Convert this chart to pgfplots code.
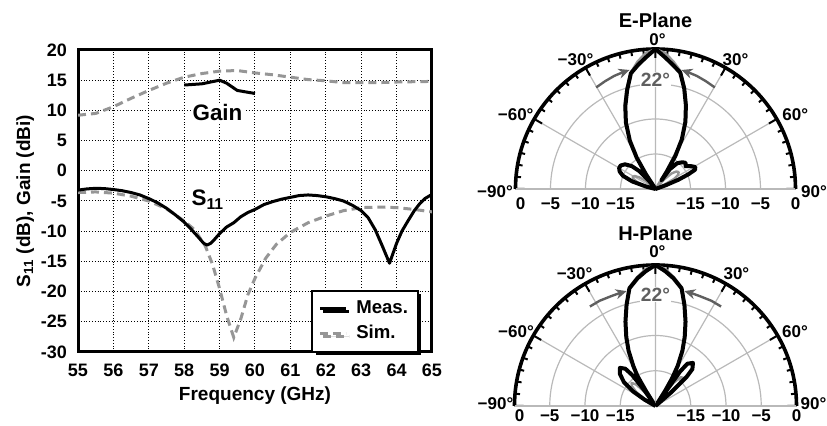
\documentclass[border=0pt]{standalone}
\usepackage{fontspec}
\setmainfont{Liberation Sans}
\usepackage{pgfplots}
\usepackage{pgfplotstable}
\pgfplotsset{compat=1.18}
\usepgfplotslibrary{polar}
\usetikzlibrary{arrows.meta,shadows}
\definecolor{simgray}{RGB}{150,150,150}
\definecolor{anngray}{RGB}{95,95,95}
\definecolor{gridgray}{RGB}{185,185,185}

% ---------- Cartesian data ----------
\pgfplotstableread{
f s
55.0 -3.2
55.25 -3.0
55.5 -2.9
55.75 -2.95
56.0 -3.1
56.25 -3.3
56.5 -3.6
56.75 -4.0
57.0 -4.6
57.25 -5.3
57.5 -6.2
57.75 -7.3
58.0 -8.5
58.2 -9.7
58.4 -11.0
58.55 -12.0
58.65 -12.3
58.75 -12.0
58.85 -11.4
59.0 -10.4
59.2 -9.3
59.4 -8.6
59.6 -7.6
59.8 -6.9
60.0 -6.4
60.25 -5.6
60.5 -5.1
60.75 -4.7
61.0 -4.4
61.25 -4.1
61.5 -4.0
61.75 -4.1
62.0 -4.3
62.25 -4.6
62.5 -5.0
62.75 -5.7
63.0 -6.6
63.2 -7.8
63.4 -9.8
63.6 -12.5
63.8 -15.3
64.0 -12.0
64.15 -10.0
64.3 -8.5
64.5 -6.6
64.66 -5.4
64.8 -4.6
65.0 -3.9
}\measS
\pgfplotstableread{
f s
55.0 -3.6
55.5 -3.5
56.0 -3.7
56.5 -4.2
57.0 -5.0
57.5 -6.3
58.0 -8.3
58.3 -9.8
58.6 -12.5
58.8 -15.5
59.0 -19.5
59.2 -24.0
59.4 -27.6
59.6 -24.5
59.8 -20.5
60.0 -17.8
60.3 -14.5
60.6 -12.2
61.0 -10.2
61.5 -8.6
62.0 -7.5
62.5 -6.6
63.0 -6.1
63.5 -6.0
64.0 -6.1
64.5 -6.4
65.0 -6.8
}\simS
\pgfplotstableread{
f g
55.0 9.2
55.5 9.5
56.0 10.6
56.5 12.0
57.0 13.3
57.5 14.5
58.0 15.5
58.5 16.1
59.0 16.5
59.5 16.6
60.0 16.2
60.5 15.9
61.0 15.5
61.5 15.1
62.0 14.9
62.5 14.6
63.0 14.6
63.5 14.6
64.0 14.7
65.0 14.8
}\simG
\pgfplotstableread{
f g
58.0 14.2
58.5 14.4
59.0 15.0
59.2 14.5
59.5 13.3
60.0 12.8
}\measG

% ---------- Polar data (angle from broadside, dB) ----------
\pgfplotstableread{
t db
-90 -20
-80 -20
-76 -18.7
-72 -16.5
-68 -15
-64 -14.3
-60 -14
-56 -14
-51 -14.4
-46 -15.3
-42 -16.6
-38 -18.5
-35 -20
-33 -17.5
-31 -14.8
-28 -12.2
-24 -9.6
-20 -7.4
-16 -5.3
-12 -3.1
-8 -2.1
-4 -1.1
0 0
4 -1.1
8 -2.1
12 -3.0
16 -5.1
20 -7.3
24 -9.5
28 -12.0
31 -14.5
33 -17
34.5 -18.5
36 -16.5
40 -15.2
45 -14.6
49 -14.3
53 -14.6
57 -14
61 -13.5
64 -13.7
66 -14.9
68 -16.5
70 -18.5
72 -20
90 -20
}\Emeas
\pgfplotstableread{
t db
-90 -20
-78 -20
-74 -18.5
-70 -17.3
-66 -16.6
-62 -16.3
-58 -16.5
-54 -17.2
-50 -18.2
-45 -20
-35 -20
-33 -17
-30 -13.6
-28 -12.1
-24 -9.4
-20 -7.1
-16 -5.0
-12 -3.0
-8 -1.6
-4 -0.5
0 0
4 -0.5
8 -1.6
12 -2.8
16 -4.9
20 -7.1
24 -9.3
27 -11.3
29 -13.5
31 -17
33 -20
38 -20
42 -18.2
46 -16.8
50 -16.1
54 -15.9
58 -16.2
62 -17
66 -18.7
69 -20
90 -20
}\Esim
\pgfplotstableread{
t db
-90 -20
-63 -20
-60 -18.2
-57 -16.2
-53 -14.4
-48 -13.2
-43 -12.6
-39 -13.2
-37 -14.5
-35.5 -17
-34 -19.5
-32.5 -17.5
-31 -15
-29 -13.5
-26 -11.3
-23 -9.4
-19.6 -7.3
-16 -5.1
-12.5 -2.9
-8 -1.7
-4 -0.8
0 0
4 -0.8
8 -1.7
12.5 -2.9
16 -5.1
19.6 -7.3
23 -9.4
26 -11.3
29 -13.5
31 -15.5
32.5 -17.5
34 -19.5
35.5 -14
37 -12.5
41 -11.9
45 -12.6
47 -14
49 -17
51 -20
90 -20
}\Hmeas
\pgfplotstableread{
t db
-90 -20
-62 -20
-58 -18.3
-54 -16.6
-50 -15.6
-46 -15.3
-42 -15.9
-38 -17.5
-35 -20
-33 -20
-31 -16
-29 -13.5
-26 -11.2
-23 -9.3
-19.6 -7.2
-16 -5.0
-12.5 -2.8
-8 -1.5
-4 -0.5
0 0
4 -0.5
8 -1.5
12.5 -2.8
16 -5.0
19.6 -7.2
23 -9.3
26 -11.2
29 -13.5
31 -16
33 -20
36 -18
38 -15.8
41 -14.6
44 -14.4
47 -15.5
50 -18
52 -20
90 -20
}\Hsim

\pgfplotsset{
  polarstyle/.style={
    scale only axis, width=140pt,
    xmin=0, xmax=180, ymin=0, ymax=20,
    xtick={0,30,...,180},
    xticklabels={},
    ytick={5,10,15,20}, yticklabels={},
    minor x tick num=5,
    grid=major,
    major grid style={gridgray, line width=0.6pt},
    x axis line style={black, line width=1.8pt},
    y axis line style={gridgray, line width=0.6pt},
    tick style={black, line width=1pt},
    ytick style={draw=none},
    major tick length=4.5pt, minor tick length=2.5pt,
    xtick align=outside,
    clip=false,
  },
}
\tikzset{
  rlab/.style={anchor=north, inner sep=1.5pt, font=\fontsize{8.5}{10}\selectfont\bfseries},
  alab/.style={anchor=center, inner sep=0pt, font=\fontsize{8.5}{10}\selectfont\bfseries},
}

\begin{document}
\begin{tikzpicture}[font=\bfseries]
\path[use as bounding box] (0,0) rectangle (413.5pt,213pt);

% ================= Left: S11 and gain =================
\begin{axis}[
  at={(39pt,37pt)}, anchor=south west,
  scale only axis, width=177pt, height=151pt,
  xmin=55, xmax=65, ymin=-30, ymax=20,
  xtick={55,56,...,65}, ytick={-30,-25,...,20},
  grid=major,
  major grid style={black, densely dotted, line width=0.5pt},
  axis line style={line width=1.5pt},
  tick style={draw=none},
  ticklabel style={font=\fontsize{9}{10}\selectfont\bfseries},
  /pgf/number format/assume math mode=true,
  xticklabel style={yshift=-2.5pt},
  yticklabel style={xshift=-2pt},
  xlabel={Frequency (GHz)},
  ylabel={S\textsubscript{11} (dB), Gain (dBi)},
  label style={font=\fontsize{9.5}{11}\selectfont\bfseries},
  xlabel style={yshift=2pt},
  ylabel style={yshift=-3.5pt},
  legend style={at={(1,0)}, anchor=south east, xshift=-6.5pt, yshift=-0.5pt,
    draw=black, line width=1pt, fill=white,
    drop shadow={shadow xshift=1.6pt, shadow yshift=-1.6pt, fill=black, opacity=1},
    font=\fontsize{9.3}{11}\selectfont\bfseries, inner xsep=3pt, inner ysep=3pt, row sep=0.5pt,
    /tikz/every odd column/.append style={column sep=2.5pt}},
  legend cell align=left,
  reverse legend,
  legend image code/.code={\draw[#1] (0pt,0pt) -- (13pt,0pt);},
]
\addplot[simgray, line width=1.5pt, dash pattern=on 4pt off 2.5pt, forget plot] table[x=f, y=g] {\simG};
\addplot[simgray, line width=1.5pt, dash pattern=on 4pt off 2.5pt] table[x=f, y=s] {\simS};
\addlegendentry{Sim.}
\addplot[black, line width=1.5pt, line join=round] table[x=f, y=s] {\measS};
\addlegendentry{Meas.}
\addplot[black, line width=1.5pt, line join=round, forget plot] table[x=f, y=g] {\measG};
\node[fill=white, inner sep=1pt, font=\fontsize{11.2}{13}\selectfont\bfseries] at (axis cs:58.94,9.6) {Gain};
\node[fill=white, inner sep=1pt, font=\fontsize{11.2}{13}\selectfont\bfseries] at (axis cs:58.67,-4.8) {S\textsubscript{11}};
\end{axis}

% ================= E-plane =================
\node[font=\fontsize{10}{12}\selectfont\bfseries] at (327.75pt,203pt) {E-Plane};
\begin{polaraxis}[polarstyle, at={(327.75pt,118.5pt)}, anchor=origin]
\addplot[simgray, line width=1.2pt, line join=round] table[x expr=90-\thisrow{t}, y expr=\thisrow{db}+20] {\Esim};
\addplot[black, line width=2pt, line join=round] table[x expr=90-\thisrow{t}, y expr=\thisrow{db}+20] {\Emeas};
\addplot[anngray, line width=1.2pt, -{Stealth[length=5.5pt,width=5pt]}] coordinates {(120.3,16.8) (115,17.0) (110,17.2) (106,17.3) (102.3,17.4)};
\addplot[anngray, line width=1.2pt, -{Stealth[length=5.5pt,width=5pt]}] coordinates {(59.7,16.8) (65,17.0) (70,17.2) (74,17.3) (77.7,17.4)};
\node[anngray, fill=white, inner sep=0.5pt, font=\fontsize{9.6}{11}\selectfont\bfseries] at (axis cs:90,15.6) {22°};
\node[alab] at (axis cs:89.2,21.29) {0°};
\node[alab] at (axis cs:58.3,21.74) {30°};
\node[alab] at (axis cs:121.7,21.74) {−30°};
\node[alab] at (axis cs:27.9,22.6) {60°};
\node[alab] at (axis cs:152.1,22.6) {−60°};
\node[alab] at (axis cs:-0.9,22.64) {90°};
\node[alab, xshift=-1pt] at (axis cs:180.9,22.64) {−90°};
\node[rlab, yshift=-2.5pt] at (axis cs:0,5) {−15};
\node[rlab, yshift=-2.5pt] at (axis cs:0,10) {−10};
\node[rlab, yshift=-2.5pt] at (axis cs:0,15) {−5};
\node[rlab, yshift=-2.5pt] at (axis cs:0,20) {0};
\node[rlab, yshift=-2.5pt] at (axis cs:180,5) {−15};
\node[rlab, yshift=-2.5pt] at (axis cs:180,10) {−10};
\node[rlab, yshift=-2.5pt] at (axis cs:180,15) {−5};
\node[rlab, yshift=-2.5pt, xshift=2.5pt] at (axis cs:180,20) {0};
\end{polaraxis}

% ================= H-plane =================
\node[font=\fontsize{10}{12}\selectfont\bfseries] at (327.75pt,96.5pt) {H-Plane};
\begin{polaraxis}[polarstyle, width=141pt, at={(327.75pt,10pt)}, anchor=origin]
\addplot[simgray, line width=1.2pt, line join=round] table[x expr=90-\thisrow{t}, y expr=\thisrow{db}+20] {\Hsim};
\addplot[black, line width=2pt, line join=round] table[x expr=90-\thisrow{t}, y expr=\thisrow{db}+20] {\Hmeas};
\addplot[anngray, line width=1.2pt, -{Stealth[length=5.5pt,width=5pt]}] coordinates {(123.4,16.9) (118,16.9) (112,16.8) (108,16.8) (104.1,16.8)};
\addplot[anngray, line width=1.2pt, -{Stealth[length=5.5pt,width=5pt]}] coordinates {(56.6,16.9) (62,16.9) (68,16.8) (72,16.8) (75.9,16.8)};
\node[anngray, fill=white, inner sep=0.5pt, font=\fontsize{9.6}{11}\selectfont\bfseries] at (axis cs:90,15.8) {22°};
\node[alab] at (axis cs:89.3,21.84) {0°};
\node[alab] at (axis cs:58.5,21.97) {30°};
\node[alab] at (axis cs:121.5,21.97) {−30°};
\node[alab] at (axis cs:28.1,22.43) {60°};
\node[alab] at (axis cs:151.9,22.43) {−60°};
\node[alab] at (axis cs:0.8,22.41) {90°};
\node[alab, xshift=-1pt] at (axis cs:179.2,22.41) {−90°};
\node[rlab] at (axis cs:0,5) {−15};
\node[rlab] at (axis cs:0,10) {−10};
\node[rlab] at (axis cs:0,15) {−5};
\node[rlab] at (axis cs:0,20) {0};
\node[rlab] at (axis cs:180,5) {−15};
\node[rlab] at (axis cs:180,10) {−10};
\node[rlab] at (axis cs:180,15) {−5};
\node[rlab, xshift=2.5pt] at (axis cs:180,20) {0};
\end{polaraxis}
\end{tikzpicture}
\end{document}
